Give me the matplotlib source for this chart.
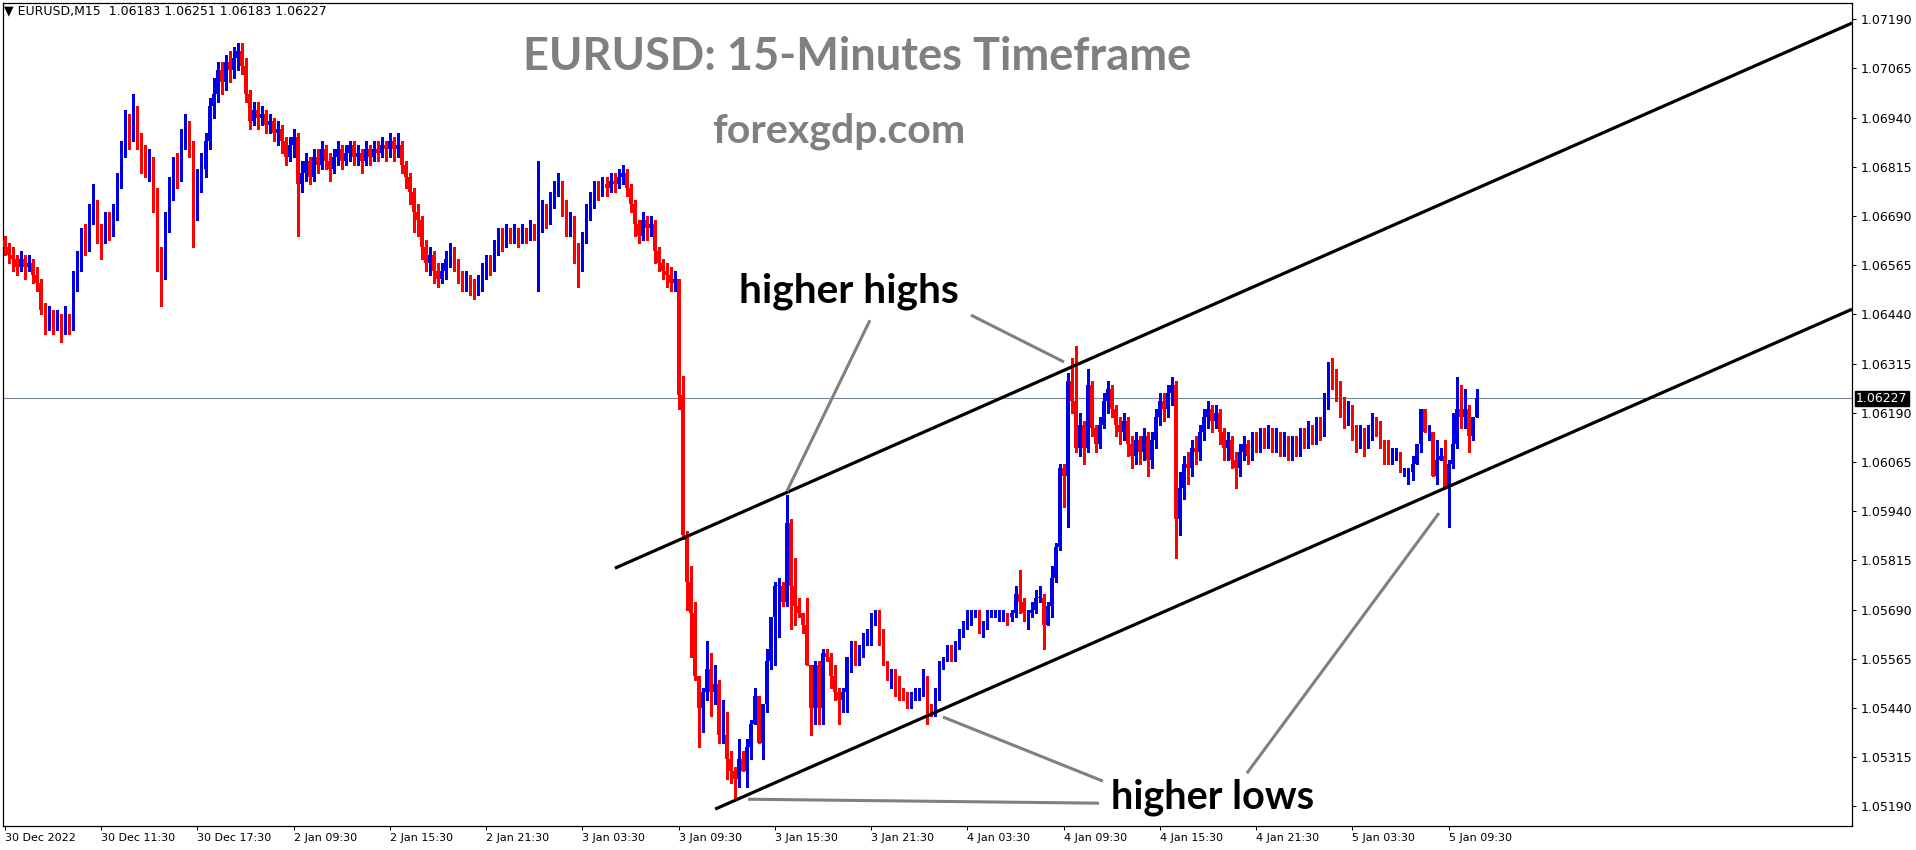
import matplotlib
matplotlib.use("Agg")
import matplotlib.pyplot as plt
import numpy as np

# ---------------- data ----------------
first_open = 1.0663
closes = [
 1.0661,1.0659,1.0658,1.0656,1.0658,1.0656,1.0657,1.0654,1.0652,1.0645,
 1.0641,1.0644,1.0641,1.0642,1.0640,1.0643,1.0641,1.0652,1.0657,1.0664,
 1.0662,1.0670,1.0672,1.0665,1.0663,1.0668,1.0666,1.0669,1.0677,1.0685,
 1.0693,1.0690,1.0695,1.0688,1.0684,1.0681,1.0683,1.0674,1.0658,1.0655,
 1.0667,1.0676,1.0682,1.0679,1.0688,1.0691,1.0686,1.0672,1.0678,1.0681,
 1.0688,1.0697,1.0700,1.0706,1.0703,1.0708,1.0706,1.0709,1.0711,1.0707,
 1.0700,1.0693,1.0696,1.0694,1.0695,1.0692,1.0693,1.0690,1.0691,1.0688,
 1.0684,1.0687,1.0689,1.0677,1.0680,1.0683,1.0679,1.0684,1.0682,1.0686,
 1.0683,1.0681,1.0684,1.0686,1.0683,1.0685,1.0687,1.0684,1.0685,1.0683,
 1.0686,1.0684,1.0686,1.0685,1.0687,1.0686,1.0688,1.0686,1.0687,1.0682,
 1.0679,1.0675,1.0670,1.0668,1.0661,1.0657,1.0659,1.0655,1.0653,1.0655,
 1.0658,1.0660,1.0657,1.0654,1.0652,1.0653,1.0651,1.0650,1.0652,1.0655,
 1.0657,1.0656,1.0661,1.0664,1.0662,1.0665,1.0664,1.0665,1.0663,1.0665,
 1.0664,1.0666,1.0665,1.0667,1.0670,1.0668,1.0673,1.0676,1.0677,1.0672,
 1.0667,1.0668,1.0660,1.0656,1.0663,1.0670,1.0673,1.0676,1.0675,1.0677,
 1.0676,1.0678,1.0677,1.0679,1.0680,1.0676,1.0672,1.0667,1.0664,1.0668,
 1.0666,1.0667,1.0660,1.0657,1.0655,1.0654,1.0652,1.0653,1.06235,1.0588,
 1.0576,1.0568,1.0552,1.0544,1.0548,1.0554,1.0548,1.0550,1.0537,1.0537,
 1.0531,1.0528,1.0526,1.0531,1.0528,1.0534,1.0540,1.0547,1.0535,1.0545,
 1.0556,1.0567,1.0575,1.0575,1.0571,1.0591,1.0575,1.0570,1.0568,1.0565,
 1.0555,1.0544,1.0555,1.0544,1.0558,1.0557,1.0552,1.0548,1.0546,1.0548,
 1.0557,1.0561,1.0557,1.0559,1.0562,1.0563,1.0567,1.0567,1.0564,1.0555,
 1.0552,1.0553,1.0550,1.0548,1.0547,1.0546,1.0547,1.0548,1.0548,1.0551,
 1.0544,1.0543,1.0548,1.0555,1.0557,1.0559,1.0557,1.0560,1.0563,1.0565,
 1.0567,1.0568,1.0568,1.0565,1.0565,1.0568,1.0568,1.0568,1.0568,1.0568,
 1.0567,1.0568,1.0573,1.0571,1.0568,1.0568,1.0569,1.0572,1.0572,1.0565,
 1.0570,1.0577,1.0585,1.0605,1.0603,1.0627,1.0622,1.0610,1.0616,1.0610,
 1.0626,1.0615,1.0611,1.0616,1.0622,1.0625,1.0620,1.0616,1.0614,1.0617,
 1.0611,1.0608,1.0612,1.0609,1.0613,1.0607,1.0612,1.0618,1.0622,1.0620,
 1.0624,1.0626,1.0592,1.0600,1.0606,1.0605,1.0610,1.0609,1.0614,1.0618,
 1.0620,1.0617,1.0619,1.0614,1.0610,1.0612,1.0607,1.0605,1.0609,1.0611,
 1.0608,1.0612,1.0611,1.0613,1.0612,1.0614,1.0611,1.0613,1.0610,1.0612,
 1.0609,1.0611,1.0610,1.0613,1.0612,1.0615,1.0613,1.0616,1.0615,1.0622,
 1.0630,1.0628,1.0626,1.0621,1.0618,1.0620,1.0615,1.0612,1.0614,1.0611,
 1.0614,1.0617,1.0615,1.0612,1.0607,1.0606,1.0608,1.0609,1.0604,1.0604,
 1.0604,1.0606,1.0611,1.0620,1.0614,1.0614,1.0603,1.0607,1.0608,1.0600,
 1.0606,1.0611,1.0620,1.0618,1.0620,1.0613,1.0618,1.06227,
]
highs = [
 1.0664,1.0662,1.0661,1.0659,1.0660,1.0659,1.0659,1.0658,1.0656,1.0653,
 1.0647,1.0646,1.0645,1.0645,1.0644,1.0646,1.0644,1.0655,1.0660,1.0666,
 1.0667,1.0672,1.0677,1.0673,1.0667,1.0670,1.0670,1.0672,1.0680,1.0688,
 1.0696,1.0695,1.0700,1.0697,1.0690,1.0687,1.0686,1.0684,1.0676,1.0661,
 1.0670,1.0679,1.0684,1.0685,1.0691,1.0695,1.0693,1.0688,1.0681,1.0685,
 1.0690,1.0699,1.0704,1.0708,1.0708,1.0710,1.0711,1.0712,1.0713,1.0713,
 1.0709,1.0701,1.0698,1.0698,1.0697,1.0696,1.0695,1.0694,1.0693,1.0692,
 1.0689,1.0689,1.0691,1.0690,1.0683,1.0685,1.0684,1.0686,1.0686,1.0688,
 1.0687,1.0685,1.0686,1.0688,1.0687,1.0687,1.0688,1.0688,1.0687,1.0686,
 1.0688,1.0687,1.0688,1.0688,1.0689,1.0688,1.0690,1.0689,1.0690,1.0688,
 1.0683,1.0680,1.0676,1.0672,1.0669,1.0663,1.0661,1.0660,1.0657,1.0657,
 1.0660,1.0662,1.0661,1.0658,1.0655,1.0655,1.0654,1.0653,1.0654,1.0657,
 1.0659,1.0659,1.0663,1.0666,1.0666,1.0667,1.0666,1.0667,1.0666,1.0667,
 1.0666,1.0668,1.0667,1.0683,1.0673,1.0672,1.0675,1.0678,1.0680,1.0678,
 1.0673,1.0670,1.0669,1.0662,1.0665,1.0672,1.0675,1.0678,1.0678,1.0679,
 1.0679,1.0680,1.0680,1.0681,1.0682,1.0681,1.0677,1.0673,1.0668,1.0670,
 1.0669,1.0669,1.0668,1.0661,1.0658,1.0657,1.0656,1.0655,1.0653,1.06283,
 1.0589,1.0580,1.0571,1.0552,1.0549,1.0561,1.0558,1.0555,1.0551,1.0546,
 1.0543,1.0533,1.0529,1.0536,1.0533,1.0536,1.0541,1.0549,1.0547,1.0545,
 1.0559,1.0567,1.0576,1.0577,1.0576,1.0598,1.0592,1.0582,1.0572,1.0568,
 1.0572,1.0555,1.0556,1.0556,1.0559,1.0559,1.0558,1.0555,1.0549,1.0549,
 1.0557,1.0561,1.0561,1.0560,1.0563,1.0564,1.0568,1.0569,1.0569,1.0564,
 1.0556,1.0554,1.0554,1.0552,1.0549,1.0548,1.0548,1.0549,1.0549,1.0554,
 1.0552,1.0545,1.0549,1.0556,1.0557,1.0560,1.0560,1.0561,1.0564,1.0566,
 1.0569,1.0569,1.0569,1.0569,1.0566,1.0569,1.0569,1.0569,1.0569,1.0569,
 1.0568,1.0569,1.0575,1.0579,1.0572,1.0569,1.0571,1.0574,1.0575,1.0573,
 1.0571,1.0580,1.0586,1.0606,1.0606,1.0629,1.0633,1.0636,1.0619,1.0617,
 1.0630,1.0627,1.0616,1.0618,1.0624,1.0627,1.0626,1.0621,1.0618,1.0619,
 1.0618,1.0613,1.0614,1.0613,1.0615,1.0614,1.0614,1.0620,1.0624,1.0624,
 1.0626,1.0628,1.0627,1.0604,1.0608,1.0609,1.0612,1.0613,1.0616,1.0620,
 1.0622,1.0621,1.0621,1.0620,1.0615,1.0614,1.0613,1.0609,1.0611,1.0613,
 1.0612,1.0614,1.0614,1.0615,1.0615,1.0616,1.0615,1.0615,1.0614,1.0614,
 1.0613,1.0613,1.0613,1.0615,1.0615,1.0617,1.0616,1.0618,1.0618,1.0624,
 1.0632,1.0633,1.0630,1.0627,1.0623,1.0622,1.0621,1.0616,1.0616,1.0615,
 1.0616,1.0619,1.0618,1.0617,1.0612,1.0612,1.0610,1.0610,1.0609,1.0605,
 1.0605,1.0608,1.0611,1.0620,1.0620,1.0616,1.0614,1.0612,1.0610,1.0612,
 1.0607,1.0619,1.0628,1.0626,1.0625,1.0621,1.0618,1.06251,
]
lows = [
 1.0659,1.0657,1.0655,1.0654,1.0655,1.0653,1.0655,1.0652,1.0650,1.0644,
 1.0639,1.0640,1.0639,1.0640,1.0637,1.0639,1.0639,1.0640,1.0650,1.0655,
 1.0659,1.0660,1.0667,1.0662,1.0658,1.0662,1.0663,1.0664,1.0668,1.0676,
 1.0684,1.0686,1.0688,1.0686,1.0680,1.0679,1.0678,1.0670,1.0655,1.0646,
 1.0653,1.0665,1.0673,1.0676,1.0678,1.0686,1.0684,1.0661,1.0668,1.0675,
 1.0679,1.0686,1.0694,1.0698,1.0700,1.0701,1.0703,1.0704,1.0706,1.0705,
 1.0698,1.0691,1.0692,1.0691,1.0692,1.0690,1.0690,1.0688,1.0687,1.0685,
 1.0682,1.0683,1.0684,1.0664,1.0675,1.0678,1.0677,1.0678,1.0680,1.0681,
 1.0681,1.0678,1.0680,1.0682,1.0681,1.0682,1.0683,1.0682,1.0682,1.0680,
 1.0682,1.0682,1.0683,1.0683,1.0684,1.0683,1.0684,1.0683,1.0684,1.0680,
 1.0676,1.0672,1.0665,1.0664,1.0658,1.0655,1.0654,1.0652,1.0651,1.0652,
 1.0653,1.0656,1.0655,1.0652,1.0650,1.0650,1.0649,1.0648,1.0649,1.0650,
 1.0653,1.0654,1.0655,1.0659,1.0660,1.0661,1.0662,1.0662,1.0661,1.0662,
 1.0662,1.0663,1.0663,1.0650,1.0665,1.0666,1.0667,1.0671,1.0674,1.0669,
 1.0664,1.0664,1.0657,1.0651,1.0655,1.0662,1.0668,1.0671,1.0673,1.0674,
 1.0674,1.0675,1.0675,1.0676,1.0677,1.0674,1.0670,1.0664,1.0662,1.0663,
 1.0663,1.0664,1.0657,1.0655,1.0653,1.0651,1.0650,1.0650,1.0620,1.0587,
 1.0569,1.0557,1.0551,1.0534,1.0538,1.0546,1.0542,1.0545,1.0535,1.0535,
 1.0526,1.0525,1.0521,1.0524,1.0528,1.0524,1.0531,1.0540,1.0535,1.0531,
 1.0543,1.0554,1.0555,1.0562,1.0570,1.0570,1.0564,1.0565,1.0567,1.0563,
 1.0555,1.0537,1.0540,1.0540,1.0540,1.0556,1.0549,1.0546,1.0540,1.0543,
 1.0543,1.0553,1.0555,1.0555,1.0557,1.0560,1.0560,1.0565,1.0560,1.0555,
 1.0551,1.0549,1.0547,1.0546,1.0546,1.0544,1.0544,1.0546,1.0546,1.0547,
 1.0540,1.0542,1.0542,1.0546,1.0554,1.0556,1.0556,1.0556,1.0559,1.0562,
 1.0564,1.0565,1.0567,1.0563,1.0562,1.0564,1.0567,1.0567,1.0566,1.0566,
 1.0565,1.0566,1.0567,1.0568,1.0566,1.0564,1.0567,1.0568,1.0571,1.0559,
 1.0565,1.0567,1.0576,1.0584,1.0595,1.0590,1.0619,1.0609,1.0608,1.0606,
 1.0609,1.0613,1.0609,1.0610,1.0615,1.0619,1.0618,1.0613,1.0611,1.0612,
 1.0608,1.0605,1.0606,1.0606,1.0607,1.0603,1.0605,1.0610,1.0616,1.0617,
 1.0618,1.0621,1.0582,1.0588,1.0597,1.0601,1.0603,1.0606,1.0607,1.0612,
 1.0615,1.0614,1.0615,1.0611,1.0607,1.0607,1.0605,1.0600,1.0603,1.0607,
 1.0606,1.0607,1.0609,1.0609,1.0610,1.0610,1.0609,1.0609,1.0608,1.0608,
 1.0607,1.0607,1.0608,1.0608,1.0610,1.0610,1.0611,1.0611,1.0612,1.0613,
 1.0620,1.0625,1.0622,1.0618,1.0615,1.0616,1.0612,1.0609,1.0610,1.0608,
 1.0610,1.0612,1.0613,1.0610,1.0606,1.0606,1.0606,1.0607,1.0604,1.0603,
 1.0601,1.0602,1.0606,1.0609,1.0614,1.0612,1.0603,1.0601,1.0607,1.0600,
 1.0590,1.0605,1.0610,1.0615,1.0615,1.0609,1.0612,1.06183,
]
time_labels = ["30 Dec 2022", "30 Dec 11:30", "30 Dec 17:30", "2 Jan 09:30", "2 Jan 15:30",
               "2 Jan 21:30", "3 Jan 03:30", "3 Jan 09:30", "3 Jan 15:30", "3 Jan 21:30",
               "4 Jan 03:30", "4 Jan 09:30", "4 Jan 15:30", "4 Jan 21:30", "5 Jan 03:30",
               "5 Jan 09:30"]
price_ticks = [1.05190, 1.05315, 1.05440, 1.05565, 1.05690, 1.05815, 1.05940, 1.06065,
               1.06190, 1.06315, 1.06440, 1.06565, 1.06690, 1.06815, 1.06940, 1.07065, 1.07190]
last_price = 1.06227
header = "EURUSD,M15  1.06183 1.06251 1.06183 1.06227"

# channel anchors (candle index, price)
upper_channel_x = [152.1, 460.6]
upper_channel_y = [1.05795, 1.07180]
lower_channel_x = [177.1, 460.6]
lower_channel_y = [1.05183, 1.06453]
# annotation pointer lines (candle index, price)
pointer_lines = [
    ([195.0, 215.7], [1.05991, 1.06425]),
    ([240.9, 264.1], [1.06438, 1.06319]),
    ([233.9, 273.8], [1.05417, 1.05254]),
    ([185.3, 272.8], [1.05208, 1.05198]),
    ([357.6, 309.7], [1.05935, 1.05274]),
]

# ---------------- figure ----------------
W, H = 1916, 850
fig = plt.figure(figsize=(W / 100, H / 100), dpi=100)
fig.patch.set_facecolor("white")
ax = fig.add_axes([3 / W, (H - 826) / H, (1852 - 3) / W, (826 - 3) / H])

BULL = "#0000e6"
BEAR = "#ff0000"
c = np.array(closes)
o = np.array([first_open] + closes[:-1])
hi = np.maximum(np.array(highs), np.maximum(o, c))
lo = np.minimum(np.array(lows), np.minimum(o, c))
idx = np.arange(len(c))
cols = np.where(c >= o, BULL, BEAR)

ax.vlines(idx, lo, hi, colors=cols, lw=0.75, antialiased=False, zorder=3)
body_h = np.maximum(np.abs(c - o), 0.00002)
ax.bar(idx, body_h, bottom=np.minimum(o, c), width=0.8, color=cols,
       linewidth=0, antialiased=False, zorder=3)

ax.axhline(last_price, color="#778899", lw=0.8, zorder=2)

ax.plot(upper_channel_x, upper_channel_y, color="black", lw=2.3, zorder=4,
        solid_capstyle="butt")
ax.plot(lower_channel_x, lower_channel_y, color="black", lw=2.3, zorder=4,
        solid_capstyle="butt")
for xs, ys in pointer_lines:
    ax.plot(xs, ys, color="#808080", lw=2.2, zorder=4, solid_capstyle="butt")

ax.set_xlim(-0.5, 460.6)
ax.set_ylim(1.05140, 1.07231)

ax.yaxis.tick_right()
ax.set_yticks(price_ticks)
ax.set_yticklabels([f"{v:.5f}" for v in price_ticks])
ax.set_xticks([24 * k for k in range(len(time_labels))])
ax.set_xticklabels(time_labels, ha="left")
ax.tick_params(axis="both", direction="out", length=3, width=0.75, colors="black",
               pad=2)
ax.tick_params(axis="x", labelsize=8)
ax.tick_params(axis="y", pad=3, labelsize=9)
for s in ax.spines.values():
    s.set_linewidth(0.9)
    s.set_color("black")

ax.annotate(f"{last_price:.5f}", xy=(1.0, last_price),
            xycoords=("axes fraction", "data"), xytext=(3, 0),
            textcoords="offset points", ha="left", va="center", color="white",
            fontsize=9, zorder=10,
            bbox=dict(boxstyle="square,pad=0.08", fc="black", ec="black"))

# texts
fig.text(4 / W, 1 - 11 / H, "\u25BC " + header, fontsize=9, va="center", ha="left",
         color="black")

def px(x, y):
    return x / W, 1 - y / H

t1 = fig.text(*px(857, 70), "EURUSD: 15-Minutes Timeframe", fontsize=36,
              family="Lato", weight="bold", color="#808080", ha="center", va="baseline")
t2 = fig.text(*px(839, 143), "forexgdp.com", fontsize=22, family="Lato",
              weight="bold", color="#808080", ha="center", va="baseline")
t3 = fig.text(*px(849, 303), "higher highs", fontsize=28, family="Lato",
              weight="bold", color="black", ha="center", va="baseline")
t4 = fig.text(*px(1213, 808), "higher lows", fontsize=28, family="Lato",
              weight="bold", color="black", ha="center", va="baseline")

fig.canvas.draw()
r = fig.canvas.get_renderer()
for t, target in [(t1, 668), (t2, 253), (t3, 220), (t4, 203)]:
    w = t.get_window_extent(r).width
    t.set_fontsize(t.get_fontsize() * target / w)

fig.savefig("out.png", dpi=100, facecolor="white")
